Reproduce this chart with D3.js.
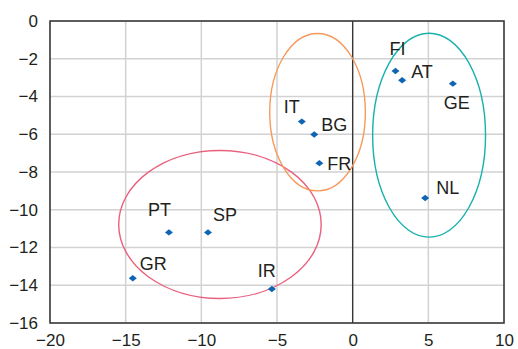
<!DOCTYPE html>
<html>
<head>
<meta charset="utf-8">
<script src="https://cdn.jsdelivr.net/npm/d3@7"></script>
<style>
  body { margin: 0; background: #fff; }
  #chart { width: 518px; height: 349px; }
  text { font-family: "Liberation Sans", Arial, sans-serif; fill: #231f20; }
</style>
</head>
<body>
<div id="chart"></div>
<script>
// countries and their coordinates
const countries = ["FI", "AT", "GE", "NL", "IT", "BG", "FR", "PT", "SP", "GR", "IR"];
const xValues = [2.83, 3.27, 6.62, 4.79, -3.36, -2.54, -2.2, -12.14, -9.56, -14.53, -5.34];
const yValues = [-2.65, -3.14, -3.32, -9.38, -5.33, -6.01, -7.53, -11.2, -11.2, -13.63, -14.2];

// cluster ellipses: centre and radii in data units
const clusterCx = [-8.77, -2.32, 5.05];
const clusterCy = [-10.78, -4.83, -6.05];
const clusterRx = [6.69, 3.16, 3.73];
const clusterRy = [3.92, 4.17, 5.4];
const clusterColors = ["#e9607f", "#f7995a", "#17b1ae"];

const xTicks = [-20, -15, -10, -5, 0, 5, 10];
const yTicks = [0, -2, -4, -6, -8, -10, -12, -14, -16];

// label placement relative to the point (px)
const labelOffset = {
  FI: [-6, -16], AT: [9, -2], GE: [-9, 25], NL: [11, -4],
  IT: [-18, -9], BG: [7, -3], FR: [8, 7],
  PT: [-21, -16], SP: [5, -11], GR: [7, -8], IR: [-14, -12]
};

const width = 518;
const height = 349;
const margin = {top: 21, left: 50, right: 14, bottom: 26};

const svg = d3.select("#chart")
  .append("svg")
  .attr("width", width)
  .attr("height", height);

const xScale = d3.scaleLinear()
  .domain([-20, 10])
  .range([margin.left, width - margin.right]);

const yScale = d3.scaleLinear()
  .domain([0, -16])
  .range([margin.top, height - margin.bottom]);

// grid
svg.append("g")
  .selectAll("line.vx")
  .data(xTicks)
  .enter()
  .append("line")
    .attr("x1", d => xScale(d))
    .attr("x2", d => xScale(d))
    .attr("y1", yScale(0))
    .attr("y2", yScale(-16))
    .attr("stroke", "#d2d2d2")
    .attr("stroke-width", 1.5);

svg.append("g")
  .selectAll("line")
  .data(yTicks)
  .enter()
  .append("line")
    .attr("x1", xScale(-20))
    .attr("x2", xScale(10))
    .attr("y1", d => yScale(d))
    .attr("y2", d => yScale(d))
    .attr("stroke", "#d2d2d2")
    .attr("stroke-width", 1.5);

// zero line
svg.append("line")
  .attr("x1", xScale(0))
  .attr("x2", xScale(0))
  .attr("y1", yScale(0))
  .attr("y2", yScale(-16))
  .attr("stroke", "#333")
  .attr("stroke-width", 1.3);

// frame
svg.append("rect")
  .attr("x", xScale(-20))
  .attr("y", yScale(0))
  .attr("width", xScale(10) - xScale(-20))
  .attr("height", yScale(-16) - yScale(0))
  .attr("fill", "none")
  .attr("stroke", "#333")
  .attr("stroke-width", 1.5);

// axes labels
const xAxis = d3.axisBottom(xScale).tickValues(xTicks).tickSize(0).tickPadding(11);
svg.append("g")
  .attr("transform", `translate(0,${yScale(-16)})`)
  .call(xAxis)
  .call(g => g.select(".domain").remove())
  .selectAll("text")
    .style("font-size", "17px")
    .attr("fill", "#231f20")
    .style("font-family", "'Liberation Sans', Arial, sans-serif");

const yAxis = d3.axisLeft(yScale).tickValues(yTicks).tickSize(0).tickPadding(12);
svg.append("g")
  .attr("transform", `translate(${xScale(-20)},0)`)
  .call(yAxis)
  .call(g => g.select(".domain").remove())
  .selectAll("text")
    .style("font-size", "17px")
    .attr("fill", "#231f20")
    .style("font-family", "'Liberation Sans', Arial, sans-serif");

// ellipses
svg.append("g")
  .selectAll("ellipse")
  .data(clusterCx)
  .enter()
  .append("ellipse")
    .attr("cx", d => xScale(d))
    .attr("cy", (d, i) => yScale(clusterCy[i]))
    .attr("rx", (d, i) => xScale(clusterRx[i]) - xScale(0))
    .attr("ry", (d, i) => yScale(-clusterRy[i]) - yScale(0))
    .attr("fill", "none")
    .attr("stroke", (d, i) => clusterColors[i])
    .attr("stroke-width", 1.4);

// points
const points = countries.map((c, i) => ({name: c, x: xValues[i], y: yValues[i]}));

svg.append("g")
  .selectAll("path")
  .data(points)
  .enter()
  .append("path")
    .attr("transform", d => `translate(${xScale(d.x)},${yScale(d.y)})`)
    .attr("d", "M-4,0L0,-3.2L4,0L0,3.2Z")
    .attr("fill", "#0f65b3");

svg.append("g")
  .selectAll("text")
  .data(points)
  .enter()
  .append("text")
    .attr("x", d => xScale(d.x) + labelOffset[d.name][0])
    .attr("y", d => yScale(d.y) + labelOffset[d.name][1])
    .style("font-size", "18px")
    .text(d => d.name);
</script>
</body>
</html>
